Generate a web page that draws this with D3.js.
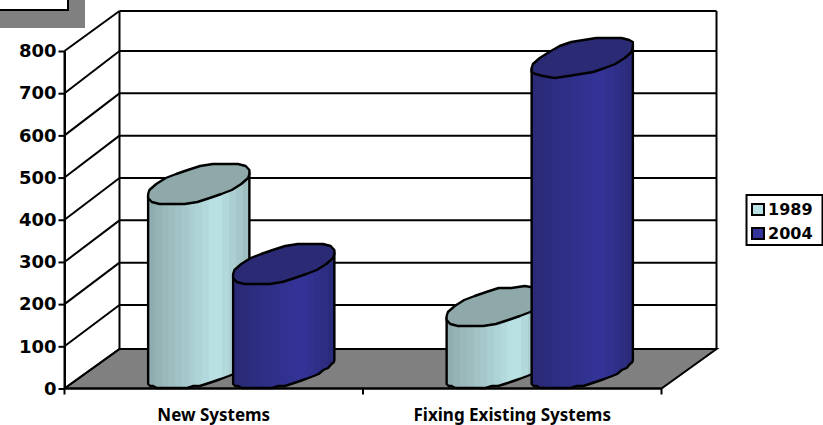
<!DOCTYPE html>
<html>
<head>
<meta charset="utf-8">
<script src="https://cdn.jsdelivr.net/npm/d3@7/dist/d3.min.js"></script>
<style>
html, body { margin: 0; padding: 0; background: #fff; }
svg { display: block; }
text { font-family: "Noto Sans", "DejaVu Sans", sans-serif; font-weight: bold; fill: #000; }
</style>
</head>
<body>
<svg id="chart" width="823" height="425"></svg>
<script>
const categories = ["New Systems", "Fixing Existing Systems"];
const seriesNames = ["1989", "2004"];
const values1989 = [438, 148];
const values2004 = [248, 738];
const tickValues = [0, 100, 200, 300, 400, 500, 600, 700, 800];

const topFill = { "1989": "#8fa9ab", "2004": "#2a2a75" };
const legendFill = { "1989": "#bbe3e6", "2004": "#333399" };
const bandRamp = {
  "1989": ["#8fa9ab", "#bbe3e6", "#9cbabd"],
  "2004": ["#2a2a75", "#333399", "#2a2a78"]
};

const svg = d3.select("#chart");
const x = d3.scaleBand().domain(categories).range([64.5, 661.5]);
const inner = d3.scaleBand().domain(seriesNames).range([-85, 85]);
const y = d3.scaleLinear().domain([0, 800]).range([388.5, 51]);
// Back-wall heights, slightly compressed at both ends by the projection
const wallY = d3.scaleLinear().domain([0, 100, 700, 800]).range([349, 305, 51, 11]);

// Oblique projection: the floor recedes up and to the right.
const depth = { dx: 55, dy: -39.5 };
const line = d3.line();

// Stepped shading across each cylinder body.
const defs = svg.append("defs");
seriesNames.forEach(name => {
  const [a, b, c] = bandRamp[name];
  const bands = 15, peak = 0.68;
  const up = d3.interpolateRgb(a, b), down = d3.interpolateRgb(b, c);
  const colour = t => t <= peak ? up(t / peak) : down((t - peak) / (1 - peak));
  const grad = defs.append("linearGradient").attr("id", "body" + name)
    .attr("x1", 0).attr("x2", 1).attr("y1", 0).attr("y2", 0);
  d3.range(bands).forEach(i => {
    const col = colour((i + 0.5) / bands);
    grad.append("stop").attr("offset", i / bands).attr("stop-color", col);
    grad.append("stop").attr("offset", (i + 1) / bands).attr("stop-color", col);
  });
});

// Floor
const x0 = x.range()[0], x1 = x.range()[1], yBase = y(0);
svg.append("path")
  .attr("d", line([[x0, yBase], [x1, yBase], [x1 + depth.dx, wallY(0)], [x0 + depth.dx, wallY(0)]]) + "Z")
  .attr("fill", "#808080").attr("stroke", "#000").attr("stroke-width", 2);

// Back wall gridlines and the side-wall diagonals
const wall = svg.append("g").attr("fill", "none").attr("stroke", "#000").attr("stroke-width", 2);
tickValues.forEach(v => {
  const q = [x0 + depth.dx, wallY(v)];
  wall.append("path").attr("d", line([[x0, y(v)], q]));
  wall.append("path").attr("d", line([q, [x1 + depth.dx, q[1]]]));
});
wall.append("path").attr("d", line([[x0, y(0)], [x0, y(800)]]));
wall.append("path").attr("d", line([[x0 + depth.dx, wallY(0)], [x0 + depth.dx, wallY(800)]]));
wall.append("path").attr("d", line([[x1 + depth.dx, wallY(0)], [x1 + depth.dx, wallY(800)]]));

// Cylinders: a blunt, low-resolution ring swept from the floor to the value
const radiusX = inner.bandwidth() / 2;
const halfW = Math.hypot(radiusX, depth.dx / 2);
const squarish = v => Math.sign(v) * Math.pow(Math.abs(v), 0.9);
const snap = v => Math.round(v / 2) * 2;
const ringPoint = (cx, cy, t) => {
  const fx = radiusX * squarish(Math.cos(t)), fd = squarish(Math.sin(t)) / 2;
  const px = Math.max(-halfW, Math.min(halfW, fx + fd * depth.dx));
  return [cx + px, cy + fd * depth.dy];
};
const steps = 24;
const ring = (cx, cy) => d3.range(steps).map(i => {
  const p = ringPoint(cx, cy, i / steps * 2 * Math.PI);
  return [p[0], snap(p[1])];
});

function drawCylinder(category, name, value) {
  const cx = x(category) + x.bandwidth() / 2 + inner(name) + radiusX + depth.dx / 2;
  const cyBottom = y(0) + depth.dy / 2;
  const cyTop = y(value) + depth.dy / 2;
  const tRight = Math.atan2(depth.dx / 2, radiusX);
  const lower = d3.range(steps + 1).map(i => {
    const p = ringPoint(cx, cyBottom, tRight - Math.PI * (i / steps));
    return [p[0], Math.min(y(0), snap(p[1]))];
  });
  const g = svg.append("g");
  const left = ringPoint(cx, cyTop, tRight - Math.PI);
  const right = ringPoint(cx, cyTop, tRight);
  g.append("path")
    .attr("d", line([right, ...lower, left]) + "Z")
    .attr("fill", `url(#body${name})`)
    .attr("stroke", "#000").attr("stroke-width", 2.4).attr("stroke-linejoin", "round");
  g.append("path")
    .attr("d", line(ring(cx, cyTop)) + "Z")
    .attr("fill", topFill[name])
    .attr("stroke", "#000").attr("stroke-width", 2.4).attr("stroke-linejoin", "round");
}

categories.forEach((c, i) => {
  drawCylinder(c, "1989", values1989[i]);
  drawCylinder(c, "2004", values2004[i]);
});

// Front baseline and axes
svg.append("path").attr("d", line([[x0, yBase], [x1, yBase]]))
  .attr("stroke", "#000").attr("stroke-width", 2);
const yAxis = d3.axisLeft(y).tickValues(tickValues).tickSize(6).tickSizeOuter(0).tickPadding(2);
const yG = svg.append("g").attr("transform", `translate(${x0},0)`).call(yAxis);
yG.select(".domain").attr("stroke", "#000").attr("stroke-width", 2);
yG.selectAll(".tick line").attr("stroke", "#000").attr("stroke-width", 2);
yG.selectAll(".tick text").style("font-size", "18px").style("font-family", '"DejaVu Sans"').style("font-weight", "bold");

const xTicks = [x0, x(categories[1]), x1];
svg.append("g").selectAll("line").data(xTicks).join("line")
  .attr("x1", d => d).attr("x2", d => d).attr("y1", yBase).attr("y2", yBase + 6)
  .attr("stroke", "#000").attr("stroke-width", 2);
svg.append("g").selectAll("text").data(categories).join("text")
  .attr("x", d => x(d) + x.bandwidth() / 2).attr("y", 421)
  .attr("text-anchor", "middle").style("font-size", "17px").text(d => d);

// Legend
const legend = svg.append("g");
legend.append("rect").attr("x", 746.5).attr("y", 195).attr("width", 76).attr("height", 50)
  .attr("fill", "#fff").attr("stroke", "#000").attr("stroke-width", 2);
seriesNames.forEach((name, i) => {
  const ly = 209 + i * 24;
  legend.append("rect").attr("x", 752).attr("y", ly - 5).attr("width", 12).attr("height", 11)
    .attr("fill", legendFill[name]).attr("stroke", "#000").attr("stroke-width", 2);
  legend.append("text").attr("x", 768).attr("y", ly + 6)
    .style("font-family", '"DejaVu Sans"').style("font-size", "16px").text(name);
});

// Partly visible boxed panel in the top-left corner, with its drop shadow
svg.append("rect").attr("x", 0).attr("y", 0).attr("width", 85).attr("height", 28).attr("fill", "#808080");
svg.append("rect").attr("x", -4).attr("y", -4).attr("width", 72).attr("height", 14)
  .attr("fill", "#fff").attr("stroke", "#000").attr("stroke-width", 2);
</script>
</body>
</html>
